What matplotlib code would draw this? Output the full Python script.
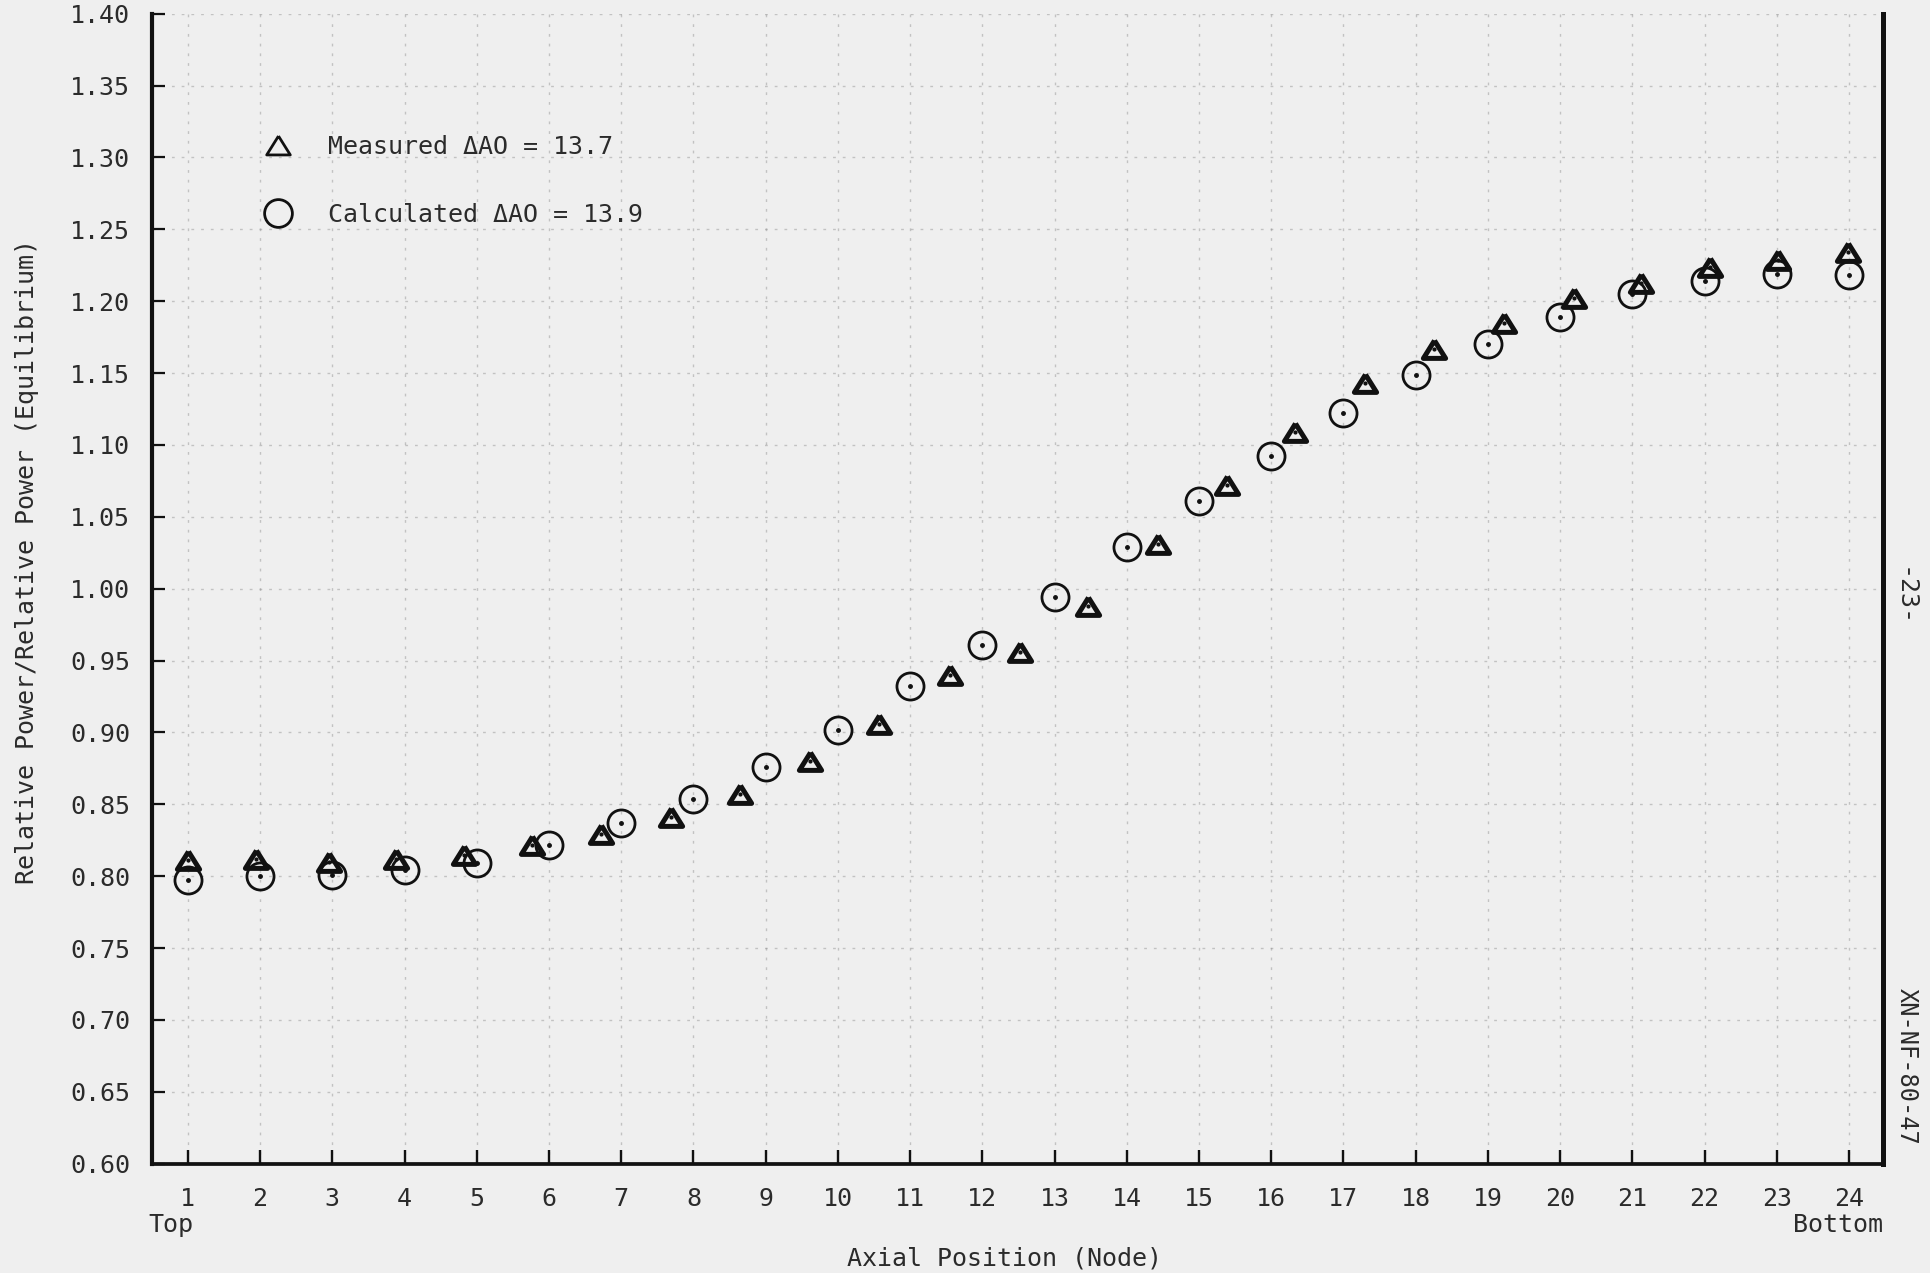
import matplotlib.pyplot as plt
from matplotlib.lines import Line2D
from matplotlib.markers import MarkerStyle

# Calculated relative power at each node (circles)
calc_nodes = list(range(1, 25))
calc_power = [0.797, 0.800, 0.801, 0.804, 0.809, 0.822, 0.837, 0.854, 0.876, 0.902,
              0.932, 0.961, 0.994, 1.029, 1.061, 1.092, 1.122, 1.149, 1.170, 1.189,
              1.205, 1.214, 1.219, 1.218]

# Measured relative power (triangles), on a slightly finer axial mesh
meas_pos = [1.00, 1.95, 2.95, 3.88, 4.82, 5.76, 6.72, 7.69, 8.65, 9.62,
            10.57, 11.55, 12.52, 13.46, 14.43, 15.39, 16.33, 17.30, 18.26, 19.23,
            20.19, 21.12, 22.07, 23.02, 23.98]
meas_power = [0.811, 0.812, 0.810, 0.812, 0.815, 0.822, 0.829, 0.841, 0.857, 0.880,
              0.906, 0.940, 0.956, 0.988, 1.031, 1.072, 1.109, 1.143, 1.167, 1.185,
              1.202, 1.213, 1.224, 1.229, 1.234]

y_ticks = [0.60, 0.65, 0.70, 0.75, 0.80, 0.85, 0.90, 0.95, 1.00, 1.05, 1.10,
           1.15, 1.20, 1.25, 1.30, 1.35, 1.40]

label_meas = "Measured \u0394AO = 13.7"
label_calc = "Calculated \u0394AO = 13.9"

bg = "#efefef"
ink = "#111111"
txt = "#2b2b2b"
font = "DejaVu Sans Mono"

plt.rcParams['font.family'] = [font, 'DejaVu Sans']

fig = plt.figure(figsize=(19.31, 12.73), dpi=100, facecolor=bg)
ax = fig.add_axes([0.0786, 0.0859, 0.8965, 0.9033], facecolor=bg)

tri = MarkerStyle([(0, 0.8), (-1, -0.8), (1, -0.8), (0, 0.8)], joinstyle='round')

# faint graph-paper grid
ax.grid(True, color="#8c8c8c", linestyle=(0, (2, 5)), linewidth=1.0, alpha=0.45)
ax.set_axisbelow(True)

ax.plot(meas_pos, meas_power, linestyle='none', marker=tri, ms=16,
        mfc='none', mec=ink, mew=3.6, zorder=3)
ax.plot(calc_nodes, calc_power, linestyle='none', marker='o', ms=19.5,
        mfc='none', mec=ink, mew=2.0, zorder=3)
ax.plot(calc_nodes, calc_power, linestyle='none', marker='o', ms=2.5,
        mfc=ink, mec=ink, zorder=4)
ax.plot(meas_pos, meas_power, linestyle='none', marker='o', ms=2.0,
        mfc=ink, mec=ink, zorder=4)

ax.set_xlim(0.5, 24.47)
ax.set_ylim(0.60, 1.40)
ax.set_xticks(calc_nodes)
ax.set_xticklabels([str(n) for n in calc_nodes])
ax.set_yticks(y_ticks)
ax.set_yticklabels(["%.2f" % v for v in y_ticks])

ax.tick_params(axis='x', direction='in', length=10, width=1.7, color=ink,
               pad=16.5, labelsize=18, labelcolor=txt)
ax.tick_params(axis='y', direction='in', length=9.4, width=1.6, color=ink,
               pad=15.5, labelsize=18, labelcolor=txt)

ax.spines['top'].set_visible(False)
ax.spines['left'].set_linewidth(3.0)
ax.spines['bottom'].set_linewidth(2.7)
ax.spines['right'].set_linewidth(3.6)
for s in ('left', 'bottom', 'right'):
    ax.spines[s].set_color(ink)

# end labels under the first and last node
ax.text(0.446, -0.043, "Top", transform=ax.get_xaxis_transform(),
        ha='left', va='top', fontsize=18, color=txt)
ax.text(1.0, -0.043, "Bottom", transform=ax.transAxes,
        ha='right', va='top', fontsize=18, color=txt)

ax.set_xlabel("Axial Position (Node)", fontsize=18, color=txt)
ax.xaxis.set_label_coords(0.4923, -0.072)
ax.set_ylabel("Relative Power/Relative Power (Equilibrium)", fontsize=18, color=txt)
ax.yaxis.label.set_va('center')
ax.yaxis.set_label_coords(-0.072, 0.5235)

# document marks on the right margin
ax.text(1.012, 0.4926, "-23-", transform=ax.transAxes, rotation=-90,
        ha='center', va='center', fontsize=18, color=txt)
ax.text(1.014, 0.0848, "XN-NF-80-47", transform=ax.transAxes, rotation=-90,
        ha='center', va='center', fontsize=17, color=txt)

handles = [
    Line2D([], [], linestyle='none', marker=tri, ms=17, mfc='none', mec=ink, mew=2.0),
    Line2D([], [], linestyle='none', marker='o', ms=20, mfc='none', mec=ink, mew=2.0),
]
ax.legend(handles, [label_meas, label_calc], loc='upper left',
          bbox_to_anchor=(0.0585, 0.8945), frameon=False, fontsize=18,
          borderpad=0, borderaxespad=0, handlelength=2.0, handletextpad=1.0,
          labelspacing=1.76, labelcolor=txt)

fig.savefig("out.png", dpi=100, facecolor=bg)
